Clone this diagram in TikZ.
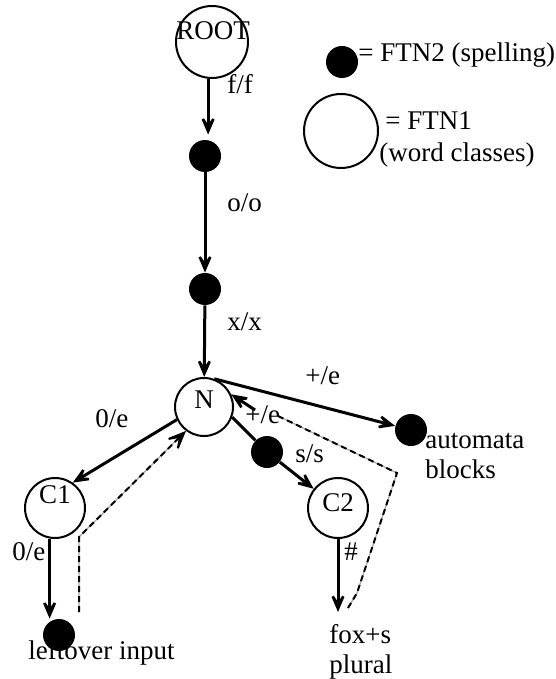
\documentclass[tikz,border=0pt]{standalone}
\usepackage{fontspec}
\setmainfont{Liberation Serif}
\usetikzlibrary{arrows.meta}
\begin{document}
\begin{tikzpicture}[x=0.5pt,y=-0.5pt,
  every node/.style={font=\fontsize{13.5}{15}\selectfont},
  state/.style={circle,draw,line width=1pt,minimum size=#1,inner sep=0pt},
  state/.default=30pt,
  spell/.style={circle,fill,minimum size=16pt,inner sep=0pt},
  lbl/.style={inner sep=0pt,anchor=base west},
  ctext/.style={inner sep=0pt,anchor=base},
  tip/.style={-{Stealth[length=13.5pt,width=11.5pt,inset=8.5pt]}},
  arr/.style={line width=1.5pt,tip},
  plainline/.style={line width=1.5pt},
  dashgrey/.style={draw=black!35,line width=0.6pt},
  dashtrace/.style={line width=1pt,dash pattern=on 3pt off 2pt}
]
\useasboundingbox (0,0) rectangle (556,679);

% states
\node[state=36pt] (root) at (212,42) {};
\node[ctext] (roott) at (213,40) {ROOT};
\node[spell] (d1) at (205,156) {};
\node[spell] (d2) at (205,289) {};
\node[state=29pt] (N) at (204,407) {};
\node[ctext] (Nt) at (204,408) {N};
\node[spell] (auto) at (411,430) {};
\node[spell] (d3) at (267,452) {};
\node[state=30pt] (C1) at (55,508) {};
\node[ctext] (C1t) at (55,503) {C1};
\node[state=30pt] (C2) at (338,508) {};
\node[ctext] (C2t) at (338,511) {C2};
\node[spell] (lo) at (59,635) {};

% legend
\node[spell] (legd) at (342,62) {};
\node[lbl] (legdt) at (358,62) {= FTN2 (spelling)};
\node[state=37pt] (legc) at (341,131) {};
\node[lbl] (legct1) at (385,130) {= FTN1};
\node[lbl] (legct2) at (379,162) {(word classes)};

% dashed traces
\coordinate (lv) at (79,612);
\coordinate (lc) at (79,537);
\coordinate (rs) at (278,416);
\coordinate (rc) at (397,473);
\coordinate (rb) at (357,593);
\coordinate (re) at (348,608);
\draw[dashgrey] (lv) -- (lc) -- (N.233);
\draw[dashtrace,tip] (lv) -- (lc) -- (N.233);
\draw[dashgrey] (rs) -- (rc) -- (rb) -- (re);
\draw[dashtrace] (rs) -- (rc) -- (rb) -- (re);

% transitions
\draw[arr,shorten >=2.5pt] (root.264) -- (root.264 |- d1.north);
\draw[arr] (d1) -- (d2);
\draw[arr] (d2) -- (N);
\draw[arr] (N.70) -- (auto);
\draw[plainline] (N.-20) -- (d3);
\draw[arr] (d3) -- (C2);
\draw[arr] (N.205) -- (C1.55);
\coordinate (pe) at (255,410);
\draw[arr] (pe) -- (N.25);
\draw[arr] (C1.260) -- (C1.260 |- lo.north);
\coordinate (foxtip) at (338,612);
\draw[arr] (C2) -- (foxtip);

% labels
\node[lbl] (ff) at (227,94) {f/f};
\node[lbl] (oo) at (227,212) {o/o};
\node[lbl] (xx) at (227,330) {x/x};
\node[lbl] (pe1) at (305,384) {+/e};
\node[lbl] (pe2) at (245,423) {+/e};
\node[lbl] (ss) at (295,462) {s/s};
\node[lbl] (ze1) at (95,427) {0/e};
\node[lbl] (ze2) at (12,560) {0/e};
\node[lbl] (hash) at (344,560) {\#};
\node[lbl] (fox1) at (329,643) {fox+s};
\node[lbl] (fox2) at (329,673) {plural};
\node[lbl] (left) at (28,659) {leftover input};
\node[lbl] (aut1) at (425,448) {automata};
\node[lbl] (aut2) at (425,478) {blocks};
\end{tikzpicture}
\end{document}
